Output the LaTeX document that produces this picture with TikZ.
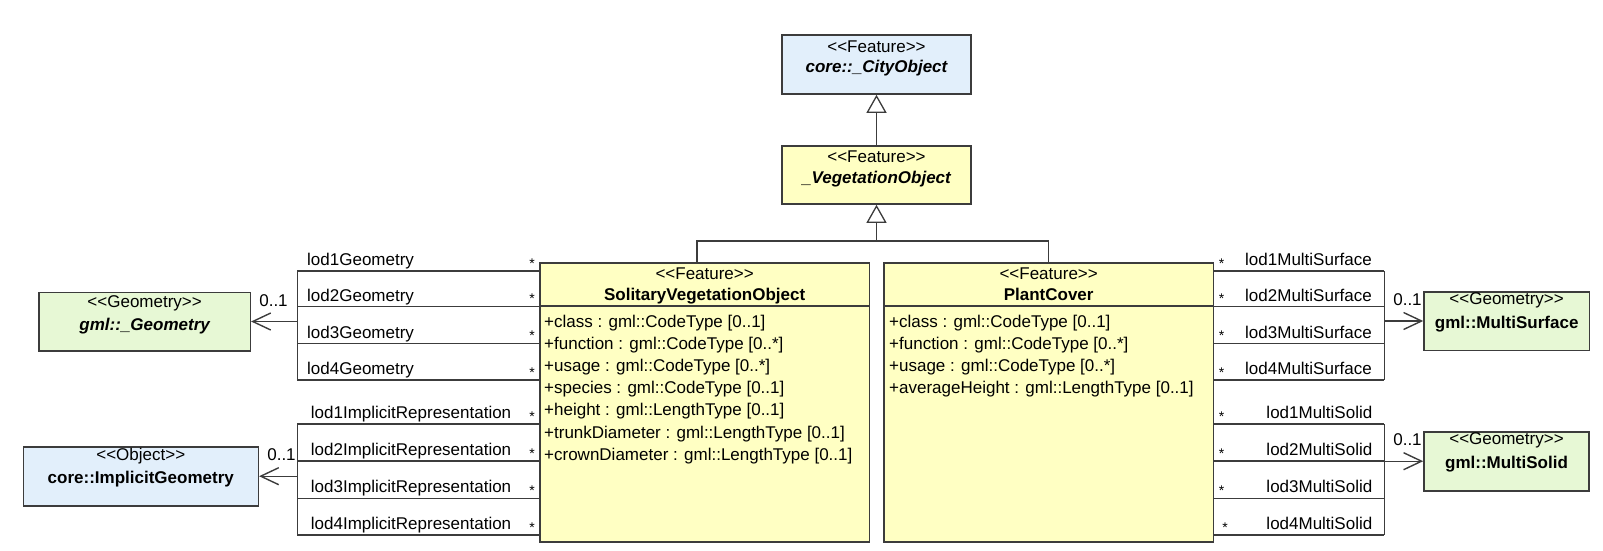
\documentclass[tikz,border=0pt]{standalone}
\usepackage{fontspec}
\setmainfont{Liberation Sans}
\usetikzlibrary{arrows.meta,calc}
\definecolor{linec}{HTML}{3C3C3C}
\definecolor{bluef}{HTML}{E2EFFB}
\definecolor{yellowf}{HTML}{FFFFC3}
\definecolor{greenf}{HTML}{E7F8D5}
\newcommand\stx[1]{<\kern0pt<#1>\kern0pt>}
\begin{document}
\begin{tikzpicture}[x=1pt,y=-1pt,
  box/.style={draw=linec, line width=1.6pt, inner sep=0pt, rectangle},
  txt/.style={font=\fontsize{17}{20}\selectfont, inner sep=0pt, text=black},
  st/.style={txt, anchor=base},
  nm/.style={txt, anchor=base, font=\fontsize{17}{20}\selectfont\bfseries},
  nmi/.style={txt, anchor=base, font=\fontsize{17}{20}\selectfont\bfseries\itshape},
  attr/.style={txt, anchor=base west},
  lbl/.style={txt, anchor=base west},
  lble/.style={txt, anchor=base east},
  mult/.style={txt, anchor=base},
  star/.style={font=\fontsize{14}{16}\selectfont, inner sep=0pt, anchor=base},
  conn/.style={draw=linec, line width=1.3pt},
  divl/.style={draw=linec, line width=1.4pt},
  gen/.style={conn, -{Triangle[open, length=18pt, width=20pt, line width=1.3pt]}},
  nav/.style={conn, -{Straight Barb[length=18pt, width=17pt, line width=1.4pt]}},
]
\useasboundingbox (0,0) rectangle (1603,550);

% ---------- class boxes ----------
\node[box, fill=bluef, minimum width=189pt, minimum height=59pt] (city) at (876.5,64.5) {};
\node[st] (cityst) at ($(city.north)+(0,18)$) {\stx{Feature}};
\node[nmi] (citynm) at ($(city.north)+(0,38.5)$) {core::\_CityObject};

\node[box, fill=yellowf, minimum width=189pt, minimum height=58pt] (veg) at (876.5,175) {};
\node[st] (vegst) at ($(veg.north)+(0,17.5)$) {\stx{Feature}};
\node[nmi] (vegnm) at ($(veg.north)+(0,38.5)$) {\_VegetationObject};

\node[box, fill=yellowf, minimum width=329.3pt, minimum height=278.7pt] (svo) at (704.65,402.35) {};
\node[st] (svost) at ($(svo.north)+(0,16.8)$) {\stx{Feature}};
\node[nm] (svonm) at ($(svo.north)+(0,38.4)$) {SolitaryVegetationObject};
\draw[divl] ($(svo.north west)+(0,43.7)$) -- ($(svo.north east)+(0,43.7)$);
\foreach \t [count=\i] in {{+class : gml::CodeType [0..1]},{+function : gml::CodeType [0..*]},{+usage : gml::CodeType [0..*]},{+species : gml::CodeType [0..1]},{+height : gml::LengthType [0..1]},{+trunkDiameter : gml::LengthType [0..1]},{+crownDiameter : gml::LengthType [0..1]}}
  \node[attr] (svoa\i) at ({544},{327.5+22.1*(\i-1)}) {\t};

\node[box, fill=yellowf, minimum width=329.3pt, minimum height=278.7pt] (pc) at (1048.65,402.35) {};
\node[st] (pcst) at ($(pc.north)+(0,16.8)$) {\stx{Feature}};
\node[nm] (pcnm) at ($(pc.north)+(0,38.4)$) {PlantCover};
\draw[divl] ($(pc.north west)+(0,43.7)$) -- ($(pc.north east)+(0,43.7)$);
\foreach \t [count=\i] in {{+class : gml::CodeType [0..1]},{+function : gml::CodeType [0..*]},{+usage : gml::CodeType [0..*]},{+averageHeight : gml::LengthType [0..1]}}
  \node[attr] (pca\i) at ({889},{327.5+22.1*(\i-1)}) {\t};

\node[box, fill=greenf, minimum width=211.3pt, minimum height=58.4pt] (geom) at (144.65,321.5) {};
\node[st] (geomst) at ($(geom.north)+(0,15.7)$) {\stx{Geometry}};
\node[nmi] (geomnm) at ($(geom.north)+(0,39)$) {gml::\_Geometry};

\node[box, fill=bluef, minimum width=235pt, minimum height=59pt] (impl) at (140.8,476.2) {};
\node[st] (implst) at ($(impl.north)+(0,15)$) {\stx{Object}};
\node[nm] (implnm) at ($(impl.north)+(0,38)$) {core::ImplicitGeometry};

\node[box, fill=greenf, minimum width=165.3pt, minimum height=58.6pt] (msurf) at (1506.65,321) {};
\node[st] (msurfst) at ($(msurf.north)+(0,13.5)$) {\stx{Geometry}};
\node[nm] (msurfnm) at ($(msurf.north)+(0,38)$) {gml::MultiSurface};

\node[box, fill=greenf, minimum width=165pt, minimum height=59pt] (msol) at (1506.5,461.2) {};
\node[st] (msolst) at ($(msol.north)+(0,14)$) {\stx{Geometry}};
\node[nm] (msolnm) at ($(msol.north)+(0,38)$) {gml::MultiSolid};

% ---------- generalizations ----------
\draw[gen] (veg.north) -- (city.south);
\coordinate (junc) at (876.5,241);
\coordinate (svoT) at ($(svo.north)+(-7.65,0)$);
\draw[gen] (svoT) |- (junc) -- (veg.south);
\draw[conn] (pc.north) |- (junc);

% ---------- left associations: geometry ----------
\foreach \y [count=\i] in {271,306.7,343.8,380} {
  \coordinate (lg\i) at (297.3,\y);
  \draw[conn] (lg\i) -- (lg\i -| svo.west);
  \node[lbl] (lgl\i) at ({307},{\y-5.5}) {lod\i Geometry};
  \node[star] (lgs\i) at ({532},{\y-3}) {*};
}
\draw[conn] (lg1) -- (lg4);
\draw[nav] (geom.east -| lg1) -- (geom.east);
\node[mult] (lgm) at (273.5,306) {0..1};

% ---------- left associations: implicit ----------
\foreach \y [count=\i] in {424,461,498.3,535} {
  \coordinate (li\i) at (297.3,\y);
  \draw[conn] (li\i) -- (li\i -| svo.west);
  \node[lbl] (lil\i) at ({310.7},{\y-5.5}) {lod\i ImplicitRepresentation};
  \node[star] (lis\i) at ({532},{\y-3}) {*};
}
\draw[conn] (li1) -- (li4);
\draw[nav] (impl.east -| li1) -- (impl.east);
\node[mult] (lim) at (281.5,460) {0..1};

% ---------- right associations: multisurface ----------
\foreach \y [count=\i] in {271,306.7,343.8,380} {
  \coordinate (rs\i) at (1384.3,\y);
  \draw[conn] (rs\i -| pc.east) -- (rs\i);
  \node[lbl] (rsl\i) at ({1245},{\y-5.5}) {lod\i MultiSurface};
  \node[star] (rss\i) at ({1221.7},{\y-3}) {*};
}
\draw[conn] (rs1) -- (rs4);
\draw[nav] (msurf.west -| rs1) -- (msurf.west);
\node[mult] (rsm) at (1407.5,305) {0..1};

% ---------- right associations: multisolid ----------
\foreach \y/\sx [count=\i] in {424/1221.7,461/1221.7,498.3/1221.7,535/1225} {
  \coordinate (ro\i) at (1384.3,\y);
  \draw[conn] (ro\i -| pc.east) -- (ro\i);
  \node[lble] (rol\i) at ({1372.5},{\y-5.5}) {lod\i MultiSolid};
  \node[star] (ros\i) at ({\sx},{\y-3}) {*};
}
\draw[conn] (ro1) -- (ro4);
\draw[nav] (msol.west -| ro1) -- (msol.west);
\node[mult] (rom) at (1407.5,445) {0..1};
\end{tikzpicture}
\end{document}
